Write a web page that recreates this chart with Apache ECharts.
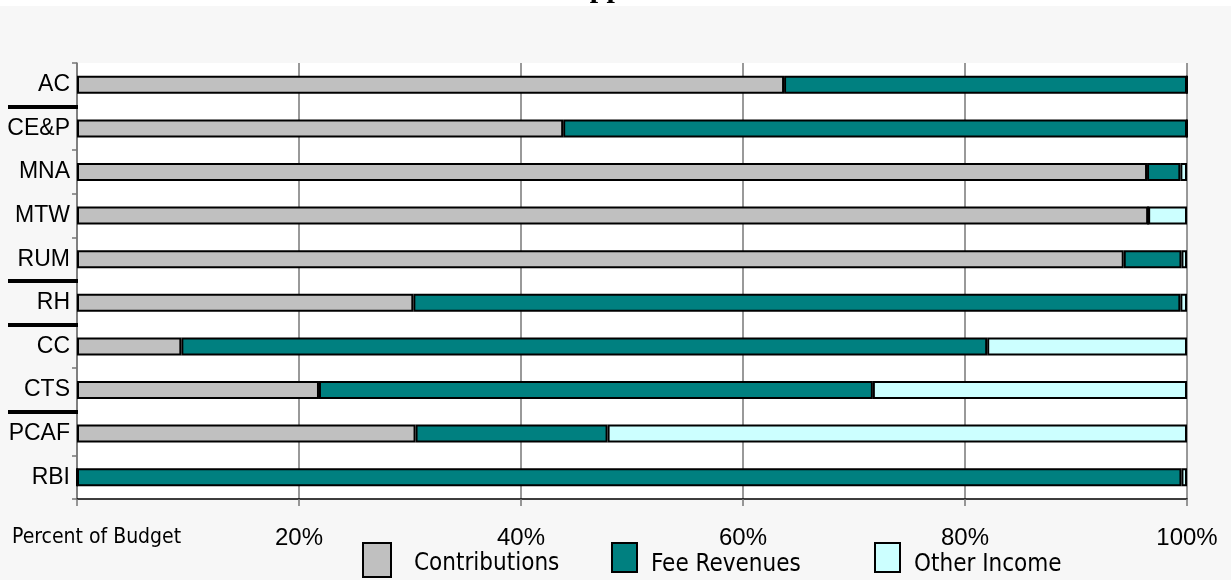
<!DOCTYPE html>
<html>
<head>
<meta charset="utf-8">
<script src="https://cdn.jsdelivr.net/npm/echarts@6/dist/echarts.min.js"></script>
<style>
  html, body { margin: 0; padding: 0; background: #f7f7f7; }
  #chart { width: 1231px; height: 580px; }
</style>
</head>
<body>
<div id="chart"></div>
<script>
// Units, top to bottom
const categories = ['AC', 'CE&P', 'MNA', 'MTW', 'RUM', 'RH', 'CC', 'CTS', 'PCAF', 'RBI'];
// Share of each unit's budget, in percent
const contributions = [63.7, 43.8, 96.4, 96.5, 94.3, 30.3, 9.4, 21.8, 30.5, 0];
const feeRevenues   = [36.3, 56.2, 3.0, 0, 5.2, 69.1, 72.6, 49.9, 17.3, 99.5];
const otherIncome   = [0, 0, 0.6, 3.5, 0.5, 0.6, 18.0, 28.3, 52.2, 0.5];
// Units after which a group separator is drawn
const groupEnds = ['AC', 'RUM', 'RH', 'CTS'];
const xTicks = [0, 20, 40, 60, 80, 100];

// Pick the first condensed face that is installed
const probe = document.createElement('canvas').getContext('2d');
function installed(name) {
  const s = 'Contributions Revenues 0123';
  probe.font = '40px monospace';
  const a = probe.measureText(s).width;
  probe.font = '40px "' + name + '", monospace';
  return probe.measureText(s).width !== a;
}
const narrowFace = ['Liberation Sans Narrow', 'Arial Narrow', 'Noto Sans Condensed', 'DejaVu Sans Condensed']
  .find(installed) || 'sans-serif';
const narrow = '"' + narrowFace + '", sans-serif';
// Size a narrow label so that its text spans about the given width
function fitSize(text, width, maxSize) {
  probe.font = '100px ' + narrow;
  return Math.min(maxSize, Math.round(width / probe.measureText(text).width * 100 * 2) / 2);
}
const legendSize = fitSize('Contributions', 146, 29);
const budgetSize = fitSize('Percent of Budget', 168, 24);

const sans = '"Liberation Sans", Arial, sans-serif';

const chart = echarts.init(document.getElementById('chart'), null, { renderer: 'canvas' });

function seriesOf(name, data, color) {
  return {
    name: name,
    type: 'bar',
    stack: 'budget',
    data: data,
    barWidth: 18,
    itemStyle: { color: color, borderColor: '#000', borderWidth: 2 },
    emphasis: { disabled: true }
  };
}

function legendOf(name, left, w, h, gap, dy) {
  return {
    data: [name],
    left: left,
    top: 542,
    padding: 0,
    itemWidth: w,
    itemHeight: h,
    icon: 'rect',
    selectedMode: false,
    itemStyle: { borderColor: '#000', borderWidth: 2 },
    formatter: '{t|{name}}',
    textStyle: {
      color: '#000',
      padding: [0, 0, 0, gap],
      rich: { t: { fontFamily: narrow, fontSize: legendSize, color: '#000', padding: [dy, 0, 0, 0] } }
    }
  };
}

const separatorsBase = [
  { type: 'rect', left: 0, top: 0, shape: { width: 1231, height: 6 }, style: { fill: '#ffffff' }, z: -1 }
];

chart.setOption({
  backgroundColor: '#f7f7f7',
  animation: false,
  title: [
    {
      text: 'Sources of Support',
      left: 417,
      top: -26,
      padding: 0,
      textStyle: { fontFamily: '"Liberation Serif", "Times New Roman", serif', fontWeight: 'bold', fontSize: 30, lineHeight: 30, color: '#000' }
    },
    {
      text: 'Percent of Budget',
      left: 12,
      top: 527,
      padding: 0,
      textStyle: { fontFamily: narrow, fontSize: budgetSize, fontWeight: 'normal', color: '#000' }
    }
  ],
  legend: [
    legendOf('Contributions', 362, 28, 34, 18, 8),
    legendOf('Fee Revenues', 611, 25, 29, 9, 14),
    legendOf('Other Income', 874, 25, 29, 9, 14)
  ],
  grid: {
    left: 77, right: 44, top: 63, bottom: 81,
    show: true, backgroundColor: '#ffffff', borderWidth: 0
  },
  xAxis: {
    type: 'value',
    min: xTicks[0],
    max: xTicks[xTicks.length - 1],
    interval: 20,
    axisLine: { show: true, lineStyle: { color: '#000', width: 1.5 } },
    axisTick: { show: true, length: 7, lineStyle: { color: '#777', width: 1.5 } },
    splitLine: { show: true, lineStyle: { color: '#777', width: 1.5 } },
    axisLabel: {
      margin: 27,
      fontFamily: sans, fontSize: 24, color: '#000',
      formatter: v => (v === 0 ? '' : v + '%')
    }
  },
  yAxis: {
    type: 'category',
    data: categories,
    inverse: true,
    axisLine: { show: true, lineStyle: { color: '#777', width: 1.5 } },
    axisTick: { show: true, length: 5, lineStyle: { color: '#777', width: 1.5 } },
    axisLabel: { margin: 7, fontFamily: sans, fontSize: 23, color: '#000' }
  },
  graphic: separatorsBase,
  series: [
    seriesOf('Contributions', contributions, '#c0c0c0'),
    seriesOf('Fee Revenues', feeRevenues, '#008080'),
    seriesOf('Other Income', otherIncome, '#ccffff')
  ]
});

// Thick separators between unit groups, placed on the category boundaries
const seps = groupEnds.map(function (name) {
  const i = categories.indexOf(name);
  const y0 = chart.convertToPixel({ yAxisIndex: 0 }, categories[i]);
  const y1 = chart.convertToPixel({ yAxisIndex: 0 }, categories[i + 1]);
  const y = Math.round((y0 + y1) / 2);
  return {
    type: 'line',
    shape: { x1: 8, y1: y, x2: 78, y2: y },
    style: { stroke: '#000', lineWidth: 4 },
    z: 10
  };
});
chart.setOption({ graphic: separatorsBase.concat(seps) });
</script>
</body>
</html>
